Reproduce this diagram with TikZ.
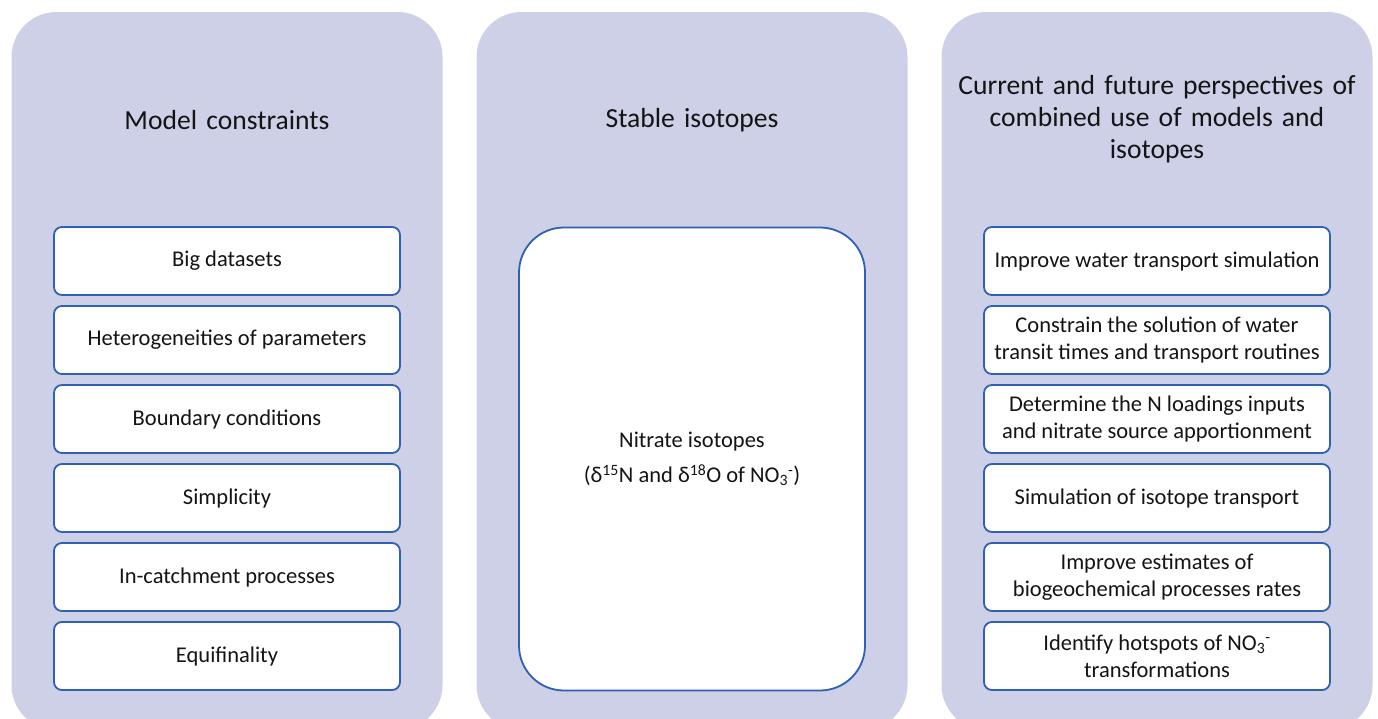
\documentclass[tikz,border=0pt]{standalone}
\usepackage{fontspec}
\setmainfont{Carlito}
\usetikzlibrary{positioning}

\definecolor{panelfill}{RGB}{205,208,230}
\definecolor{boxline}{RGB}{47,96,178}
\definecolor{ink}{RGB}{20,20,20}

\begin{document}
\begin{tikzpicture}[x=1pt, y=-1pt,
    % Panel background and its heading
    panel/.style={fill=panelfill, rounded corners=45pt},
    heading/.style={align=center, text width=430pt, text=ink, font=\fontsize{27.6}{32}\selectfont},
    % White boxes inside the panels
    item/.style={draw=boxline, line width=1.8pt, fill=white, rounded corners=8pt,
        minimum width=346pt, minimum height=68pt, align=center, inner sep=2pt,
        text=ink, font=\fontsize{22.5}{27}\selectfont}
]

    % --- Configuration ---
    \def\colL{227}   % x of left column
    \def\colM{692}   % x of middle column
    \def\colR{1157}  % x of right column
    \def\topY{261}   % y of first box
    \def\pitch{79}   % box spacing

    \path[use as bounding box, clip] (0,0) rectangle (1378,718);

    % --- Panels ---
    \foreach \cx in {\colL,\colM,\colR} {
        \fill[panel] (\cx-215.5,12) rectangle (\cx+215.5,730);
    }

    % --- Headings ---
    \node[heading] (hModel) at (\colL,120) {Model constraints};
    \node[heading] (hIso)   at (\colM,120) {Stable isotopes};
    \node[heading] (hComb)  at (\colR,119) {Current and future perspectives of\\combined use of models and\\isotopes};

    % ================= LEFT COLUMN =================
    \foreach \txt [count=\i] in {Big datasets, Heterogeneities of parameters,
        Boundary conditions, Simplicity, In-catchment processes, Equifinality} {
        \node[item] (M\i) at (\colL,{\topY+\pitch*(\i-1)}) {\txt};
    }

    % ================= MIDDLE COLUMN =================
    \node[item, minimum height=463pt, rounded corners=45pt] (nitrate) at (\colM,459)
        {Nitrate isotopes\\[8pt]
         (δ\textsuperscript{15}N and δ\textsuperscript{18}O of NO\textsubscript{3}\textsuperscript{-})};

    % ================= RIGHT COLUMN =================
    \foreach \txt [count=\i] in {Improve water transport simulation,
        {Constrain the solution of water\\transit times and transport routines},
        {Determine the N loadings inputs\\and nitrate source apportionment},
        Simulation of isotope transport,
        {Improve estimates of\\biogeochemical processes rates},
        {Identify hotspots of NO\textsubscript{3}\textsuperscript{-}\\transformations}} {
        \node[item] (P\i) at (\colR,{\topY+\pitch*(\i-1)}) {\txt};
    }

\end{tikzpicture}
\end{document}
